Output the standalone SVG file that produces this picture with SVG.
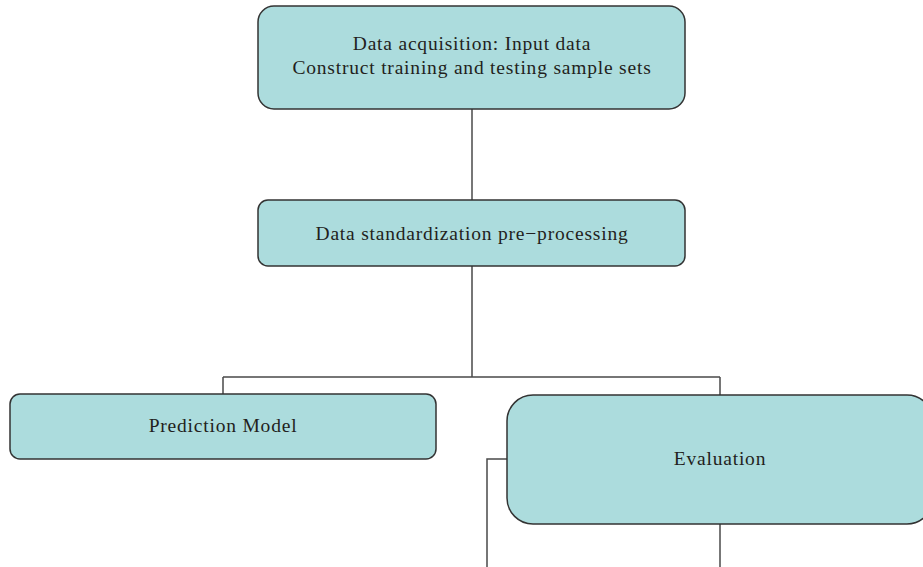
<svg xmlns="http://www.w3.org/2000/svg" width="923" height="567" viewBox="0 0 923 567">
<style>
.box{fill:#acdcdd;stroke:#333;stroke-width:1.5}
.lbl{font-family:"Liberation Serif",serif;font-size:19.5px;letter-spacing:0.8px;fill:#231f20;text-anchor:middle}
.conn{fill:none;stroke:#4a4a4a;stroke-width:1.5}
</style>
<rect width="923" height="567" fill="#fff"/>
<g id="connectors">
<path class="conn" d="M472 109V200"/>
<path class="conn" d="M472 266V377M223 377H720M223 377V394M720 377V395"/>
<path class="conn" d="M507 459H487V567"/>
<path class="conn" d="M720 524V567"/>
</g>
<g id="n1">
<rect class="box" x="258" y="6" width="427" height="103" rx="16"/>
<text class="lbl" x="472" y="50">Data acquisition: Input data</text>
<text class="lbl" x="472" y="74">Construct training and testing sample sets</text>
</g>
<g id="n2">
<rect class="box" x="258" y="200" width="427" height="66" rx="10"/>
<text class="lbl" x="472" y="240">Data standardization pre−processing</text>
</g>
<g id="n3">
<rect class="box" x="10" y="394" width="426" height="65" rx="10"/>
<text class="lbl" x="223" y="432">Prediction Model</text>
</g>
<g id="n4">
<rect class="box" x="507" y="395" width="426" height="129" rx="26"/>
<text class="lbl" x="720" y="465">Evaluation</text>
</g>
</svg>
